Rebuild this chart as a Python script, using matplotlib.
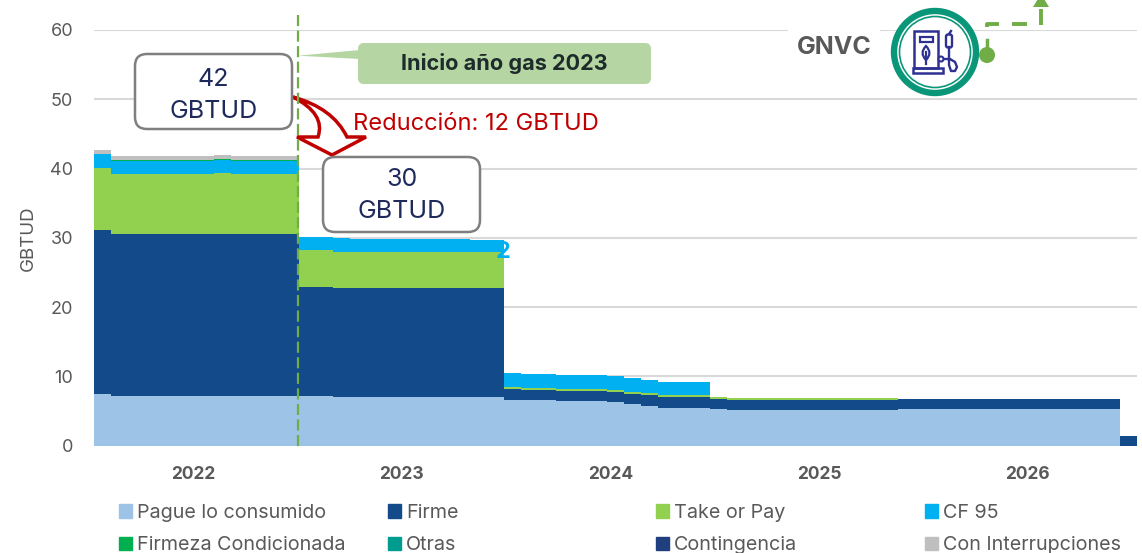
import numpy as np
from matplotlib import pyplot as plt
from matplotlib.patches import FancyBboxPatch, Circle, Polygon, PathPatch, Rectangle
from matplotlib.path import Path

plt.rcParams['font.family'] = ['Inter', 'DejaVu Sans']

# monthly values, 2022-01 .. 2027-01
pague = [7.5] + [7.2]*11 + [7.15]*2 + [7.05]*10 + [6.57] + [6.5]*2 + [6.43]*3 + [6.24, 5.99, 5.7] + [5.46]*3 + [5.3] + [5.17]*10 + [5.2]*13 + [0]
firme = [23.6] + [23.3]*6 + [23.35] + [23.3]*4 + [15.75]*2 + [15.7]*10 + [1.53] + [1.55]*2 + [1.44]*3 + [1.49, 1.5, 1.55] + [1.54]*3 + [1.42] + [1.4]*10 + [1.45]*13 + [1.4]
take_pay = [9.0] + [8.75]*6 + [8.8] + [8.75]*4 + [5.3]*2 + [5.25]*5 + [5.2]*5 + [0.3]*3 + [0.28]*3 + [0.24, 0.29, 0.29] + [0.3]*3 + [0.24] + [0.28]*10 + [0]*14
cf95 = [2.0] + [1.85]*11 + [1.9]*3 + [1.85]*4 + [1.8]*3 + [1.7]*2 + [2.0] + [2.0]*2 + [2.05]*3 + [2.13, 2.02, 1.96] + [1.9]*3 + [0]*25
firmeza = [0.05] + [0.1]*11 + [0]*49
otras = [0]*61
contingencia = [0]*61
interrupciones = [0.55] + [0.6]*11 + [0]*49

series = [pague, firme, take_pay, cf95, firmeza, otras, contingencia, interrupciones]
nombres = ['Pague lo consumido', 'Firme', 'Take or Pay', 'CF 95',
           'Firmeza Condicionada', 'Otras', 'Contingencia', 'Con Interrupciones']
colores = ['#9dc3e6', '#134b8a', '#92d050', '#00b0f0',
           '#00b050', '#009c8f', '#1f3f7f', '#bfbfbf']
years = ['2022', '2023', '2024', '2025', '2026']
year_pos = [5.8, 18, 30.2, 42.4, 54.6]
yticks = [0, 10, 20, 30, 40, 50, 60]

W, H = 1142, 553
fig = plt.figure(figsize=(W/100, H/100), dpi=100)
ax = fig.add_axes([94/W, 1-445.5/H, (1137-94)/W, (445.5-30)/H])

x = np.arange(62)
ys = [s + [s[-1]] for s in series]
ax.stackplot(x, ys, colors=colores, step='post', labels=nombres, linewidth=0, zorder=3)

ax.set_xlim(0, 61)
ax.set_ylim(0, 60)
ax.set_yticks(yticks)
ax.set_xticks(year_pos)
ax.set_xticklabels(years, fontweight='bold', color='#595959', fontsize=12.5)
ax.tick_params(axis='both', length=0)
ax.tick_params(axis='y', labelsize=13, labelcolor='#595959', pad=15)
ax.tick_params(axis='x', pad=15)
ax.grid(axis='y', color='#d9d9d9', lw=1.5, zorder=0)
ax.set_axisbelow(True)
for s in ax.spines.values():
    s.set_visible(False)
ax.set_ylabel('GBTUD', color='#595959', fontsize=13.5)
ax.yaxis.set_label_coords((37-94)/(1137-94), 0.5)

# legend, one per column so the columns stay evenly spaced
handles = [Rectangle((0, 0), 1, 1, color=c) for c in colores]
col_x = [119, 388, 656, 925]
for i, cx in enumerate(col_x):
    leg = fig.legend([handles[i], handles[i+4]], [nombres[i], nombres[i+4]],
                     loc='upper left', bbox_to_anchor=(cx/W, 1-504/H),
                     frameon=False, borderpad=0, borderaxespad=0, fontsize=14.2,
                     labelcolor='#595959', handlelength=0.66, handleheight=0.66,
                     handletextpad=0.27, labelspacing=0.72)

# overlay in pixel coords for the annotations
ov = fig.add_axes([0, 0, 1, 1], zorder=5)
ov.set_xlim(0, W)
ov.set_ylim(H, 0)
ov.axis('off')

verde = '#70ad47'
navy = '#1f2a5c'
rojo = '#c00000'

ov.plot([298, 298], [15, 447], color=verde, lw=1.6, ls=(0, (5, 2)))

# callout
ov.add_patch(Polygon([[298, 55.7], [360, 50], [360, 59]], color='#b5d6a2', lw=0))
ov.add_patch(FancyBboxPatch((362, 47), 285, 33, boxstyle='round,pad=4,rounding_size=6',
                            fc='#b5d6a2', ec='none'))
ov.text(504, 63, 'Inicio año gas 2023', ha='center', va='center', fontweight='bold',
        fontsize=15.6, color='#1e2b2b')

# red arrow
verts = [(293, 97), (333, 108), (347, 137), (366, 137), (332, 155), (297, 137),
         (318, 137), (326, 114), (293, 97), (293, 97)]
codes = [Path.MOVETO, Path.CURVE3, Path.CURVE3, Path.LINETO, Path.LINETO, Path.LINETO,
         Path.LINETO, Path.CURVE3, Path.CURVE3, Path.CLOSEPOLY]
ov.add_patch(PathPatch(Path(verts, codes), fc='white', ec=rojo, lw=2.5, joinstyle='miter'))
ov.text(353, 124, 'Reducción: 12 GBTUD', ha='left', va='center', fontsize=17, color=rojo)

# value boxes
for bx, by, val, y1, y2 in [(135, 54, '42', 79, 112), (323, 157, '30', 180, 212)]:
    ov.add_patch(FancyBboxPatch((bx+10, by+10), 137, 55, boxstyle='round,pad=10,rounding_size=12',
                                fc='white', ec='#7f7f7f', lw=1.8))
    ov.text(bx+78.5, y1, val, ha='center', va='center', fontsize=18, color=navy)
    ov.text(bx+78.5, y2, 'GBTUD', ha='center', va='center', fontsize=18, color=navy)

ov.text(503.5, 252, '2', ha='center', va='center', fontweight='bold', fontsize=17, color='#00b0f0')

# GNVC label and icon
ov.text(834, 47, 'GNVC', ha='center', va='center', fontweight='bold', fontsize=18,
        color='#595959', bbox=dict(fc='white', ec='none', pad=6))
ov.add_patch(Circle((935, 52), 41, fc='white', ec='#0a9678', lw=4.6))
ov.add_patch(Circle((935, 52), 35.5, fc='white', ec='#0a9678', lw=1.2))
azul = '#2e3192'
ov.add_patch(Rectangle((914, 31), 24, 37, fc='none', ec=azul, lw=1.8))
ov.add_patch(Rectangle((913, 68), 30, 5, fc='none', ec=azul, lw=1.8))
ov.add_patch(Rectangle((920, 37), 13, 5, fc='none', ec=azul, lw=1.6))
leaf = Path([(926, 46), (933, 53), (926, 60), (919, 53), (926, 46), (926, 46)],
            [Path.MOVETO, Path.CURVE3, Path.CURVE3, Path.CURVE3, Path.CURVE3, Path.CLOSEPOLY])
ov.add_patch(PathPatch(leaf, fc='none', ec=azul, lw=1.6))
ov.plot([926, 926], [52, 64], color=azul, lw=1.6)
ov.add_patch(Circle((941, 59), 2.5, fc='white', ec=azul, lw=1.5))
ov.plot([944, 950, 955, 957, 955, 951, 949, 949], [59, 59, 62, 67, 71, 71, 65, 47], color=azul, lw=1.7)
ov.add_patch(FancyBboxPatch((947.5, 36), 3, 10, boxstyle='round,pad=1.5,rounding_size=2',
                            fc='none', ec=azul, lw=1.7))
ov.plot([949, 951], [34, 31], color=azul, lw=1.7)

# green dashed arrow
ov.add_patch(Circle((987, 55), 8, fc=verde, ec='none'))
ov.plot([987, 987], [40, 50], color=verde, lw=2.5)
ov.plot([987, 987, 999], [27, 23.5, 23.5], color=verde, lw=2.8, solid_capstyle='butt')
ov.plot([1012, 1027], [23.5, 23.5], color=verde, lw=2.8, solid_capstyle='butt')
ov.plot([1041, 1041], [9, 25], color=verde, lw=2.8, solid_capstyle='butt')
ov.add_patch(Polygon([[1033, 7], [1049, 7], [1041, -6]], fc=verde, ec='none'))

fig.savefig('out.png', dpi=100, facecolor='white')
